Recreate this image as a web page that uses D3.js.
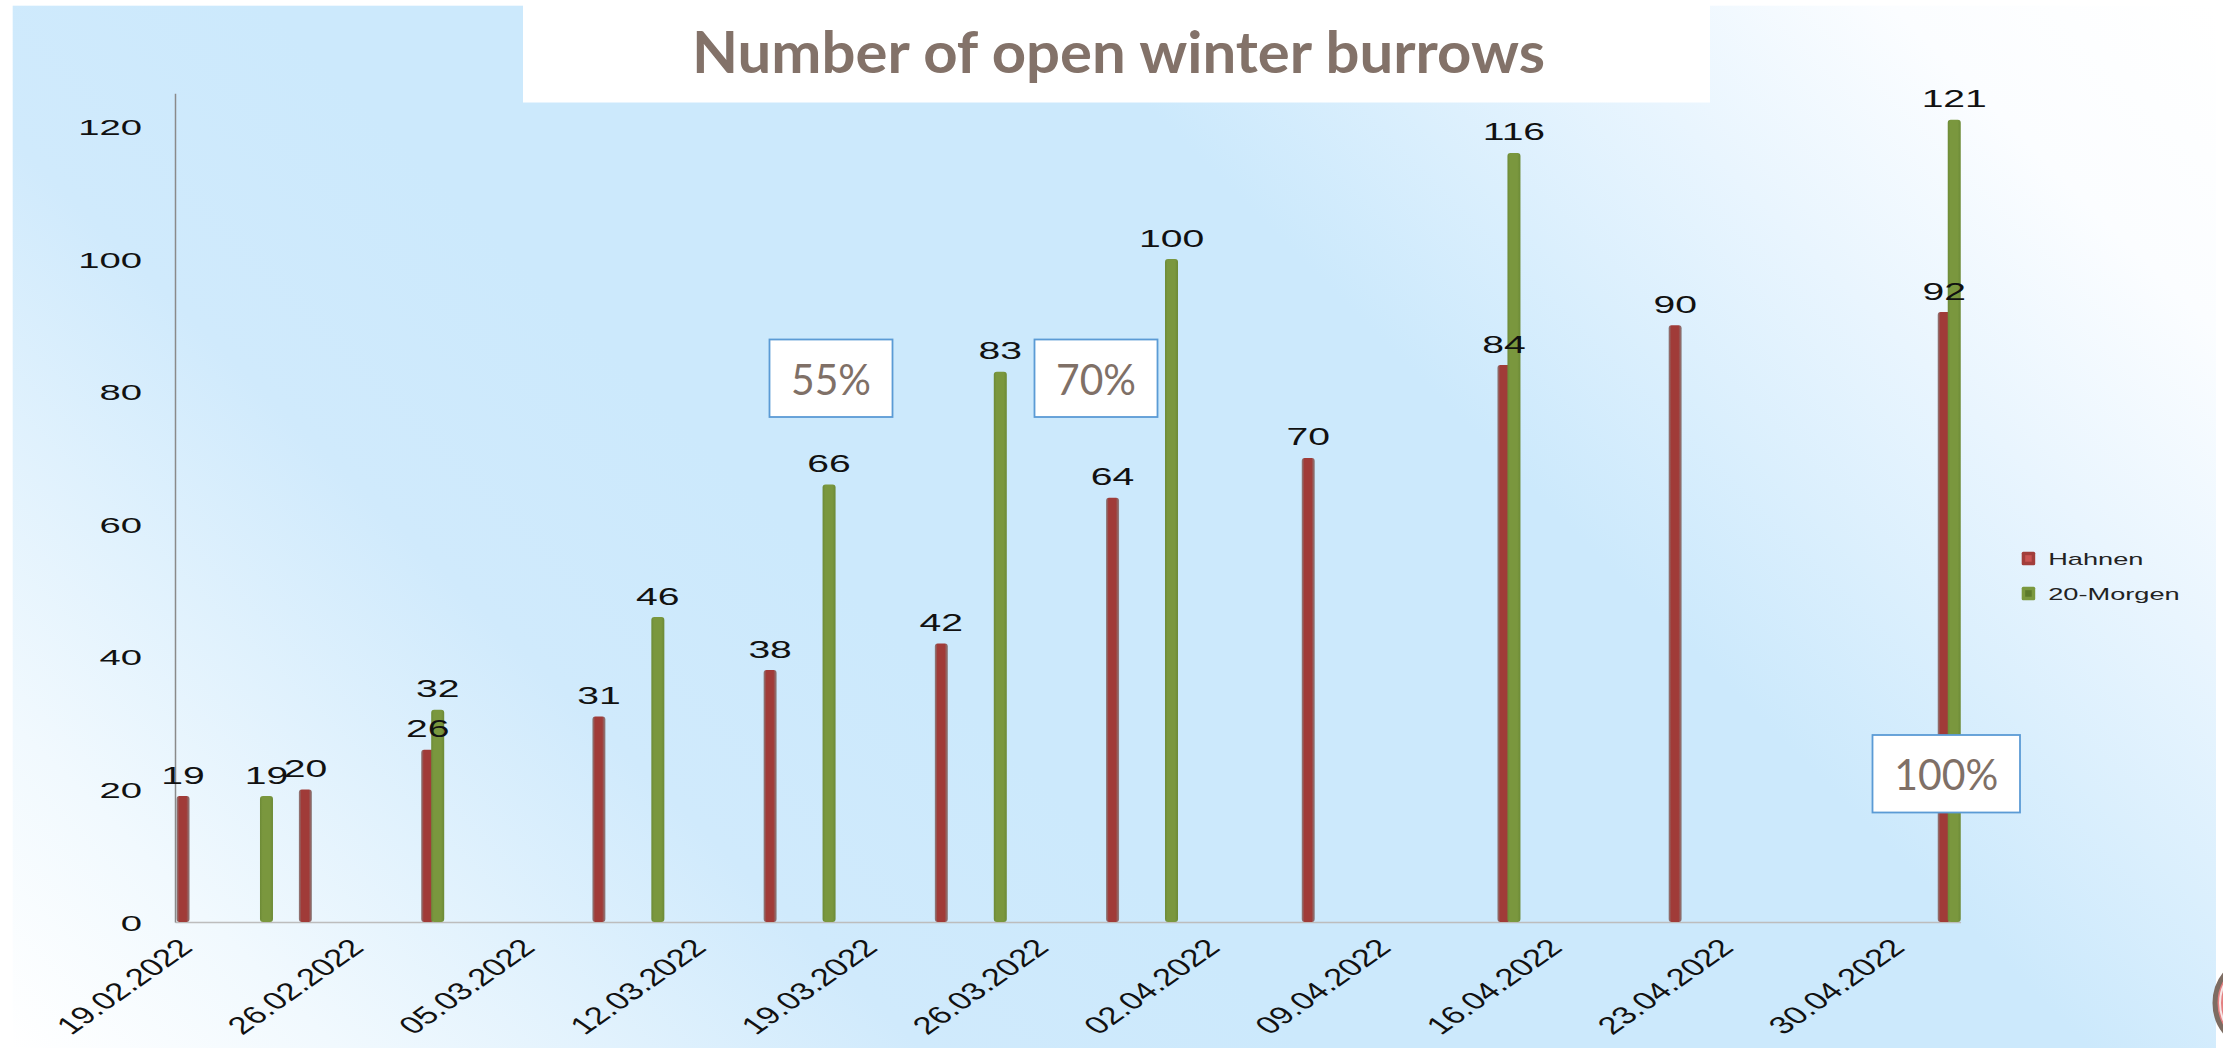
<!DOCTYPE html>
<html>
<head>
<meta charset="utf-8">
<script src="https://cdn.jsdelivr.net/npm/d3@7"></script>
<style>
  body { margin: 0; background: #ffffff; }
  svg { display: block; }
</style>
</head>
<body>
<svg id="chart"></svg>
<script>
// data
var hahnenDates = ["19.02.2022","24.02.2022","01.03.2022","08.03.2022","15.03.2022","22.03.2022",
                   "29.03.2022","06.04.2022","14.04.2022","21.04.2022","02.05.2022"];
var hahnenValues = [19,20,26,31,38,42,64,70,84,90,92];

var morgenDates = ["22.02.2022","01.03.2022","10.03.2022","17.03.2022","24.03.2022","31.03.2022",
                   "14.04.2022","02.05.2022"];
var morgenValues = [19,32,46,66,83,100,116,121];

var tickLabels = ["19.02.2022","26.02.2022","05.03.2022","12.03.2022","19.03.2022","26.03.2022",
                  "02.04.2022","09.04.2022","16.04.2022","23.04.2022","30.04.2022"];
var yTicks = [0,20,40,60,80,100,120];

var seriesNames = ["Hahnen","20-Morgen"];
var notes = ["55%","70%","100%"];

var title = "Number of open winter burrows";

// layout
var screen = {width:2223, height:1048};
var plot = {left:175, right:1960.6, top:93.3, bottom:922};
var stretch = 1.7;      // the original slide is squashed sideways, text looks wide
var labelFont = "'Liberation Sans', Arial, sans-serif";

var svg = d3.select("#chart")
    .attr("width", screen.width)
    .attr("height", screen.height);

var makeTranslateString = function(x,y)
{
    return "translate("+x+","+y+")";
}

// background gradient, runs at 45 degrees from bottom-left to top-right
var defs = svg.append("defs");
var bg = defs.append("linearGradient")
    .attr("id","bg")
    .attr("gradientUnits","userSpaceOnUse")
    .attr("x1",-518).attr("y1",518).attr("x2",1105).attr("y2",-1105);
[[0,"#ffffff"],[0.1,"#f1f9fe"],[0.28,"#d0eafc"],[0.4,"#cce9fc"],[0.64,"#cce9fc"],
 [0.8,"#e9f5fe"],[0.9,"#fbfdff"],[1,"#ffffff"]]
    .forEach(function(s){
        bg.append("stop").attr("offset",s[0]).attr("stop-color",s[1]);
    });

var makeBarGrad = function(id, edge, mid)
{
    var g = defs.append("linearGradient").attr("id",id)
        .attr("x1",0).attr("y1",0).attr("x2",1).attr("y2",0);
    g.append("stop").attr("offset",0).attr("stop-color",edge);
    g.append("stop").attr("offset",0.2).attr("stop-color",mid);
    g.append("stop").attr("offset",0.75).attr("stop-color",mid);
    g.append("stop").attr("offset",1).attr("stop-color",edge);
}
makeBarGrad("redGrad","#8a8080","#a03b38");
makeBarGrad("greenGrad","#6c8a36","#7a973e");

svg.append("rect")
    .attr("x",12.7).attr("y",5.7)
    .attr("width",2216-12.7).attr("height",screen.height)
    .attr("fill","url(#bg)");

// logo bit at right edge
svg.append("circle")
    .attr("cx",2262).attr("cy",1003).attr("r",47)
    .attr("fill","#e47f80")
    .attr("stroke","#7d6c62").attr("stroke-width",5);
svg.append("circle")
    .attr("cx",2262).attr("cy",1003).attr("r",42)
    .attr("fill","none")
    .attr("stroke","#f6e6e6").attr("stroke-width",2);

// title box
svg.append("rect")
    .attr("x",523).attr("y",0)
    .attr("width",1710-523).attr("height",102.5)
    .attr("fill","#ffffff");
svg.append("text")
    .text(title)
    .attr("x",1118.5).attr("y",73)
    .attr("text-anchor","middle")
    .attr("font-family","Lato, 'Open Sans', sans-serif")
    .attr("font-weight","bold")
    .attr("font-size",58)
    .attr("textLength",853)
    .attr("lengthAdjust","spacingAndGlyphs")
    .attr("fill","#837269");

// scales
var parseDay = d3.timeParse("%d.%m.%Y");
var fmtDay = d3.timeFormat("%d.%m.%Y");
var allDays = d3.timeDay.range(parseDay("19.02.2022"),
                               d3.timeDay.offset(parseDay("02.05.2022"),1)).map(fmtDay);

var xScale = d3.scaleBand()
    .domain(allDays)
    .range([plot.left, plot.right])
    .padding(0);

var yScale = d3.scaleLinear()
    .domain([0,125])
    .range([plot.bottom, plot.top]);

var bw = xScale.bandwidth();
var barW = 13;

// axes
var xAxis = d3.axisBottom(xScale)
    .tickValues(tickLabels)
    .tickSize(0)
    .tickSizeOuter(0);

var xg = svg.append("g")
    .attr("transform", makeTranslateString(0, plot.bottom))
    .call(xAxis);
xg.select(".domain").attr("stroke","#bdbdbd").attr("stroke-width",1.5);
xg.selectAll("text")
    .attr("x",0).attr("y",0).attr("dy",null)
    .attr("text-anchor","end")
    .attr("transform","translate(7,27) scale(1.42,1) rotate(-45)")
    .attr("font-family",labelFont)
    .attr("font-size",24.5)
    .attr("fill","#111");

var yAxis = d3.axisLeft(yScale)
    .tickValues(yTicks)
    .tickSize(0)
    .tickSizeOuter(0);

var yg = svg.append("g")
    .attr("transform", makeTranslateString(plot.left, 0))
    .call(yAxis);
yg.select(".domain").attr("stroke","#8a8a8a").attr("stroke-width",1.5);
yg.selectAll("text")
    .attr("x",0)
    .attr("dy","0.36em")
    .attr("text-anchor","end")
    .attr("transform","translate(-33,0) scale("+stretch+",1)")
    .attr("font-family",labelFont)
    .attr("font-size",22.5)
    .attr("fill","#111");

// bars
var hahnen = hahnenDates.map(function(d,i){ return {date:d, value:hahnenValues[i]}; });
var morgen = morgenDates.map(function(d,i){ return {date:d, value:morgenValues[i]}; });

var barCenter = function(d, shift)
{
    return xScale(d.date) + bw*shift;
}

var drawBars = function(data, shift, fill, cls)
{
    svg.append("g").attr("class",cls)
        .selectAll("rect")
        .data(data)
        .enter()
        .append("rect")
        .attr("x",function(d){ return barCenter(d,shift) - barW/2; })
        .attr("y",function(d){ return yScale(d.value); })
        .attr("width",barW)
        .attr("height",function(d){ return plot.bottom - yScale(d.value); })
        .attr("rx",3)
        .attr("fill",fill);
}

var redShift = 0.33, greenShift = 0.74;
drawBars(hahnen, redShift, "url(#redGrad)", "hahnen");
drawBars(morgen, greenShift, "url(#greenGrad)", "morgen");

var drawValues = function(data, shift)
{
    svg.append("g")
        .selectAll("text")
        .data(data)
        .enter()
        .append("text")
        .text(function(d){ return d.value; })
        .attr("text-anchor","middle")
        .attr("transform",function(d){
            return makeTranslateString(barCenter(d,shift), yScale(d.value) - 12.5) +
                   " scale("+stretch+",1)";
        })
        .attr("font-family",labelFont)
        .attr("font-size",23)
        .attr("fill","#111");
}
drawValues(hahnen, redShift);
drawValues(morgen, greenShift);

// legend
var legend = svg.append("g").attr("transform", makeTranslateString(2021.7, 551.7));
var legendColors = [["#a23e3b","#c95250"],["#7a983e","#5c7a2b"]];
seriesNames.forEach(function(name,i){
    var row = legend.append("g").attr("transform", makeTranslateString(0, i*35));
    row.append("rect").attr("x",0).attr("y",0).attr("width",13.5).attr("height",13.5)
        .attr("rx",1.5).attr("fill",legendColors[i][0]);
    row.append("rect").attr("x",3.5).attr("y",3.5).attr("width",6.5).attr("height",6.5)
        .attr("fill",legendColors[i][1]);
    row.append("text")
        .text(name)
        .attr("transform", makeTranslateString(26.5, 13.5) + " scale(1.6,1)")
        .attr("font-family",labelFont)
        .attr("font-size",17)
        .attr("fill","#222");
});

// percent notes
var noteBoxes = [
    {x:769.5, y:339.5, w:123, h:77.5, tl:80},
    {x:1034.5, y:339.5, w:123, h:77.5, tl:80},
    {x:1872.5, y:735, w:147.5, h:77.5, tl:104}
];
noteBoxes.forEach(function(b,i){
    svg.append("rect")
        .attr("x",b.x).attr("y",b.y).attr("width",b.w).attr("height",b.h)
        .attr("fill","#ffffff")
        .attr("stroke","#5b9bd5").attr("stroke-width",1.8);
    svg.append("text")
        .text(notes[i])
        .attr("x",b.x + b.w/2).attr("y",b.y + b.h/2 + 16.5)
        .attr("text-anchor","middle")
        .attr("font-family","Lato, 'Open Sans', sans-serif")
        .attr("font-size",43)
        .attr("textLength",b.tl)
        .attr("lengthAdjust","spacingAndGlyphs")
        .attr("fill","#7f7067");
});
</script>
</body>
</html>
